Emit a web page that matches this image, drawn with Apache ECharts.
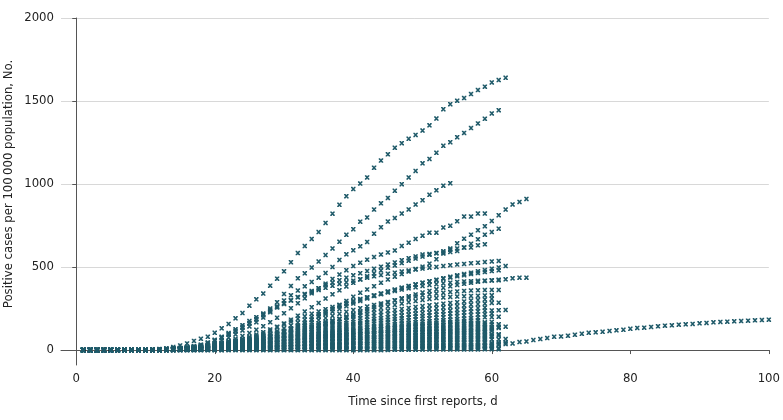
<!DOCTYPE html>
<html><head><meta charset="utf-8">
<script src="https://cdn.jsdelivr.net/npm/echarts@6/dist/echarts.min.js"></script>
<style>html,body{margin:0;padding:0;background:#fff}#c{width:783px;height:420px}</style>
</head><body><div id="c"></div><script>
const xTicks = [0, 20, 40, 60, 80, 100];
const yTicks = [0, 500, 1000, 1500, 2000];
const xTitle = 'Time since first reports, d';
const yTitle = 'Positive cases per 100\u2009000 population, No.';

// values by day (day 1 = first element)
const sA = [0,0,0,0,0,0,0,0,1,1, 2,5,10,18,28,40,55,68,80,104, 131,157,191,223,267,306,340,388,430,474, 529,584,626,669,711,766,821,875,927,970, 1003,1040,1098,1141,1179,1218,1246,1272,1296,1322, 1354,1394,1451,1481,1501,1518,1542,1566,1586,1612, 1626,1640];
const sB = [0,0,0,0,0,0,0,0,0,1, 1,2,3,5,8,12,18,26,38,55, 72,92,112,135,160,185,215,250,288,338, 386,432,462,497,533,572,612,652,694,728, 773,799,846,884,916,959,999,1040,1079,1125, 1151,1188,1230,1252,1282,1308,1337,1365,1393,1425, 1445];
const sC = [0,0,0,0,0,0,0,0,0,0, 1,1,2,3,5,8,12,18,28,42, 58,75,95,118,142,168,196,228,262,298, 330,358,384,410,436,464,500,543,577,601, 625,651,701,740,774,795,822,847,876,903, 935,962,990,1005];
const sD = [0,0,0,0,0,0,0,0,0,0, 0,1,1,2,3,4,6,8,11,15, 19,24,30,37,45,55,66,78,92,108, 125,143,162,182,203,225,248,272,296,321, 345,365,385,405,425,442,458,473,488,502, 520,547,581,611,643,671,695,722,746,778, 812,846,877,892,910];
const sE = [0,0,0,0,0,0,0,0,0,0, 1,1,2,3,5,8,12,17,24,32, 42,54,68,84,102,122,144,168,194,222, 252,282,312,342,372,400,428,455,481,506, 526,544,560,575,588,600,627,647,669,689, 707,707,738,748,776,804,804,822,822];
const sG = [0,0,0,0,0,0,0,0,0,1, 1,2,4,6,10,15,22,32,45,60, 77,96,117,140,163,187,210,233,256,278, 299,319,338,356,373,390,406,421,436,450, 463,476,489,502,515,528,541,553,564,575, 579,583,587,591,597,617,640,667,695,711, 731];
const sH = [0,0,0,0,0,0,0,0,0,0, 0,1,1,2,3,5,7,10,14,19, 25,33,42,53,66,81,98,117,138,160, 183,207,232,258,284,310,336,360,383,405, 425,444,462,479,495,510,524,538,551,563, 574,585,595,604,612,617,617,631,637];
const sM7 = [0,0,0,0,0,0,0,0,0,0, 1,2,3,5,8,13,20,30,43,60, 80,102,125,150,175,198,220,242,262,282, 300,318,334,349,362,375,387,398,408,418, 427,436,444,452,459,466,473,479,485,491, 496,501,506,511,515,519,523,526,530,534, 537];
const sI = [0,0,0,0,0,0,0,0,0,0, 0,0,1,1,2,3,5,7,10,14, 19,25,32,40,50,61,73,86,100,115, 131,148,165,183,200,216,232,248,264,281, 296,311,325,338,351,363,375,386,396,406, 415,424,433,441,450,458,466,474,482,490, 498,506];
const sM5 = [0,0,0,0,0,0,0,0,0,0, 0,1,1,2,3,4,6,9,13,18, 24,31,39,48,58,70,83,98,114,131, 148,165,182,199,216,232,247,262,277,291, 304,317,329,341,352,363,374,384,394,404, 413,421,429,437,444,451,458,464,470,476, 480];
const sJ = [0,0,0,0,0,0,0,0,0,0, 0,0,0,1,1,2,3,4,6,8, 11,14,18,23,29,36,44,53,63,74, 86,99,113,127,142,157,172,187,202,217, 232,246,260,274,287,300,312,324,335,346, 356,366,375,384,392,399,405,411,416,420, 424,426,432,436,436];
const sM3 = [0,0,0,0,0,0,0,0,0,0, 1,1,2,3,5,7,10,14,19,26, 34,43,54,66,79,93,108,124,140,156, 172,188,203,218,232,246,259,272,284,296, 307,318,328,338,347,356,364,372,379,386, 392,397,402,406,410,413,415,417,418,419, 420];
const sM2 = [0,0,0,0,0,0,0,0,0,0, 0,1,1,2,3,4,6,8,11,15, 20,26,33,41,50,60,71,83,96,110, 124,138,152,166,180,193,206,218,230,241, 252,262,272,281,290,299,307,315,322,329, 335,340,345,349,353,356,358,360,361,362, 362];
const sM1 = [0,0,0,0,0,0,0,0,0,0, 0,0,1,1,2,3,4,6,8,11, 15,19,24,30,37,45,54,64,75,87, 99,111,124,137,150,163,176,188,200,212, 223,234,244,254,263,272,280,288,295,302, 308,313,317,320,322,324,326,327,329,330];
const sL1 = [0,0,0,0,0,0,0,0,0,0, 0,0,0,1,1,1,1,2,2,2, 3,3,4,4,5,5,6,6,7,7, 8,9,9,10,10,11,12,12,13,13, 14,14,14,15,15,16,16,16,17,17, 17,18,18,18,19,19,19,19,20,20];
const sL2 = [0,0,0,0,0,0,0,0,0,0, 0,1,1,1,2,2,2,3,4,4, 5,6,6,7,8,9,10,11,12,13, 14,15,16,17,18,19,20,21,22,23, 24,25,25,26,27,27,28,29,29,30, 30,31,32,32,33,33,34,34,34,35, 35];
const sL3 = [0,0,0,0,0,0,0,0,0,0, 1,1,1,2,2,3,3,4,5,6, 7,8,9,11,12,13,14,16,17,19, 20,22,23,25,26,28,29,30,31,33, 34,35,36,37,38,39,40,41,42,43, 44,44,45,46,47,47,48,49,49];
const sL4 = [0,0,0,0,0,0,0,0,0,0, 1,1,2,2,3,4,4,5,7,8, 9,10,12,14,15,17,19,20,22,24, 26,28,30,32,34,36,37,39,41,42, 44,46,47,48,49,51,52,53,55,56, 57,58,59,59,60,61,62,63,64,65, 65,66];
const sL5 = [0,0,0,0,0,0,0,0,0,0, 1,2,2,3,3,4,5,7,8,10, 11,13,15,17,19,21,23,25,27,30, 32,34,37,39,42,44,46,48,50,52, 54,56,58,59,61,62,64,66,67,68, 70,71,72,73,74,76,77,78,79,80];
const sL6 = [0,0,0,0,0,0,0,0,0,0, 1,2,2,3,4,5,6,8,10,11, 13,15,18,20,22,25,27,29,32,35, 38,41,44,47,49,52,55,57,59,62, 64,67,68,70,72,74,76,78,80,81, 83,84,86,87,88,90,91,92,93,95, 95];
const sL7 = [0,0,0,0,0,0,0,0,0,0, 2,2,3,4,5,6,7,9,11,13, 15,18,20,23,26,29,31,34,37,41, 44,47,51,54,57,61,63,66,69,72, 74,77,79,81,84,86,88,90,92,94, 96,97,99,101,102,104,106,107,108];
const sL8 = [0,0,0,0,0,0,0,0,0,0, 2,2,3,4,5,7,9,10,13,15, 18,20,23,26,29,33,36,39,43,46, 50,54,58,61,65,69,72,75,78,81, 84,88,90,93,95,98,100,103,105,107, 109,111,113,114,116,118,120,122,123,124];
const sL9 = [0,0,0,0,0,0,0,0,0,0, 2,3,4,5,6,8,10,12,14,17, 20,22,26,29,33,36,40,43,48,52, 56,60,64,69,73,77,81,84,88,91, 95,98,101,104,106,109,112,115,118,120, 122,124,126,128,130,132,134,136,138,139, 140,141];
const sL10 = [0,0,0,0,0,0,0,0,0,0, 2,3,4,5,7,9,11,13,16,19, 22,25,29,33,36,40,44,48,53,57, 62,67,71,76,81,85,89,93,97,101, 105,109,112,115,118,121,124,127,130,133, 135,137,140,142,144,146,149,151,153,154, 155];
const sL11 = [0,0,0,0,0,0,0,0,0,0, 2,3,4,6,7,9,12,14,17,20, 24,27,31,36,40,44,48,53,58,63, 68,73,78,83,88,94,98,102,106,111, 115,119,122,126,129,133,136,139,143,145, 148,150,153,156,158,161,163,165,167,169];
const sL12 = [0,0,0,0,0,0,0,0,0,0, 3,4,5,6,8,10,13,15,19,22, 26,30,34,39,43,48,53,57,63,68, 74,80,85,91,96,102,106,111,116,120, 125,130,133,137,141,144,148,152,155,158, 161,164,167,169,172,175,178,180];
const sL13 = [0,0,0,0,0,0,0,0,0,0, 3,4,5,7,9,11,14,17,20,24, 28,32,37,42,47,52,57,62,68,74, 80,86,92,98,104,110,115,120,125,130, 135,140,144,148,152,156,160,164,168,171, 174,177,180,183,186,189,192,194,197,199, 200];
const sL14 = [0,0,0,0,0,0,0,0,0,0, 3,4,6,7,9,12,15,18,22,26, 31,35,41,46,52,57,63,68,75,81, 88,95,101,108,114,121,127,132,138,143, 149,154,158,163,167,172,176,180,185,188, 191,195,198,201,205,208,211,214,216,219];
const sL15 = [0,0,0,0,0,0,0,0,0,0, 3,5,6,8,10,13,16,20,24,29, 34,38,44,50,56,62,68,74,82,89, 96,103,110,118,125,132,138,144,150,156, 162,168,173,178,182,187,192,197,202,205, 209,212,216,220,223,227,230,233,236,239, 240,242];
const sL16 = [0,0,0,0,0,0,0,0,0,0, 4,5,7,9,11,14,18,22,26,31, 36,42,48,55,61,68,74,81,88,96, 104,112,120,127,135,143,150,156,163,169, 176,182,187,192,198,203,208,213,218,222, 226,230,234,238,242,246,250,253,256];
const sL17 = [0,0,0,0,0,0,0,0,0,0, 4,5,7,9,12,16,19,24,29,34, 40,46,53,60,67,74,81,88,97,105, 114,123,131,140,148,157,164,171,178,185, 192,200,205,211,217,222,228,234,239,244, 248,252,257,261,265,269,274,277,280,284, 285];
const sL18 = [0,0,0,0,0,0,0,0,0,0, 4,6,8,10,13,17,21,26,31,37, 43,50,57,65,73,81,88,96,105,115, 124,133,143,152,161,171,178,186,194,202, 209,217,223,229,236,242,248,254,260,265, 270,274,279,284,288,293,298,301,305,308];
const sN1 = [0,0,0,0,0,0,0,0,0,0, 0,0,0,0,0,1,1,1,1,1, 1,2,2,2,2,3,3,3,3,4, 4,4,4,5,5,5,6,6,6,6, 7,7,7,7,8,8,8,8,8,9, 9,9,9,9,9,10,10,10,10,10, 10];
const sN2 = [0,0,0,0,0,0,0,0,0,0, 1,1,2,2,3,3,4,5,6,7, 8,9,10,11,12,13,14,15,16,17, 18,18,19,19,20,20,21,21,22,22, 23,23,24,24,24,25,25,25,26,26, 26,26,27,27,27,27,28,28,28,28];
const sN3 = [0,0,0,0,0,0,0,0,0,0, 0,1,1,1,2,2,3,3,4,5, 6,7,8,9,10,11,12,13,14,16, 17,18,20,21,22,24,25,26,27,29, 30,31,32,33,34,35,36,37,38,39, 39,40,41,41,42,42,43,43,44,44, 45,45];
const sN4 = [0,0,0,0,0,0,0,0,0,0, 1,2,3,4,5,6,8,10,12,14, 16,18,20,22,24,26,28,30,32,34, 36,38,40,42,44,46,48,50,51,53, 54,55,57,58,59,60,61,62,63,64, 65,66,67,68,69,70,70,71,72];
const sN5 = [0,0,0,0,0,0,0,0,0,0, 1,1,2,2,3,4,5,6,8,9, 11,13,15,17,19,21,24,26,29,31, 34,37,39,42,45,47,50,52,55,57, 59,61,63,65,67,69,70,72,74,75, 77,78,79,80,81,82,83,84,85,86, 88];
const sN6 = [0,0,0,0,0,0,0,0,0,0, 2,3,5,7,9,12,15,19,23,27, 31,35,39,43,47,51,55,59,63,66, 69,72,75,78,80,83,85,87,89,91, 93,95,96,98,99,101,102,103,104,106, 107,108,109,110,111,112,113,113,114,115];
const sN7 = [0,0,0,0,0,0,0,0,0,0, 1,2,3,4,5,6,8,10,12,14, 17,19,22,25,28,31,35,38,42,46, 49,53,57,61,64,68,72,75,79,82, 85,88,91,94,97,100,102,105,107,110, 112,114,116,118,120,122,124,126,128,130, 133];
const sN8 = [0,0,0,0,0,0,0,0,0,0, 2,3,4,6,8,10,13,16,19,23, 27,31,35,40,44,49,54,59,64,69, 74,79,84,89,93,97,101,105,109,113, 117,120,123,126,129,132,135,138,140,143, 145,147,149,151,153,155,157,158,160];
const sZ = [0,0,0,0,0,0,0,0,0,0, 0,0,0,0,0,0,0,0,0,0, 0,0,0,0,0,0,0,0,0,0, 0,0,0,0,0,0,0,0,0,0, 1,1,1,1,2,2,2,2,2,3, 3,3,3,3,4,4,4,4,5,5, 5];
const sWA = [0,0,0,0,0,0,0,0,0,0, 0,0,0,0,0,0,0,0,0,0, 0,0,0,0,0,0,0,0,0,0, 0,0,0,0,0,0,0,0,0,0, 0,1,1,1,1,2,2,3,4,5, 6,8,9,11,13,15,17,20,23,26, 30,36,40,48,52,60,66,72,80,82, 86,92,98,104,107,110,115,119,122,128, 133,135,139,143,147,149,153,155,157,161, 163,167,169,171,173,175,177,179,181,183];

const allSeries = [sA,sB,sC,sD,sE,sG,sH,sM7,sI,sM5,sJ,sM3,sM2,sM1,
  sL1,sL2,sL3,sL4,sL5,sL6,sL7,sL8,sL9,sL10,sL11,sL12,sL13,sL14,sL15,sL16,sL17,sL18,
  sN1,sN2,sN3,sN4,sN5,sN6,sN7,sN8,sZ,sWA];

const FONT = '"DejaVu Sans Condensed","Liberation Sans Narrow","DejaVu Sans",sans-serif';
const MARK = '#1f5a69';
const X_SYM = 'path://M0,0L3,0L5,2.5L7,0L10,0L10,2.5L7,5L10,7.5L10,10L7,10L5,7.5L3,10L0,10L0,7.5L3,5L0,2.5Z';

const chart = echarts.init(document.getElementById('c'), null, {renderer: 'canvas'});
chart.setOption({
  animation: false,
  backgroundColor: '#fff',
  grid: {left: 61, right: 13, top: 18, bottom: 55},
  xAxis: {
    type: 'value', min: -2.2, max: 100,
    axisLine: {show: true, lineStyle: {color: '#555', width: 1}},
    axisTick: {show: true, length: 4, customValues: xTicks, lineStyle: {color: '#555'}},
    axisLabel: {customValues: xTicks, margin: 7, fontSize: 13, color: '#222', fontFamily: FONT,
      formatter: function (v) { return String(v); }},
    splitLine: {show: false}
  },
  yAxis: {
    type: 'value', min: -90, max: 2000,
    axisLine: {show: true, lineStyle: {color: '#555', width: 1}},
    axisTick: {show: true, length: 4, customValues: yTicks, lineStyle: {color: '#555'}},
    axisLabel: {customValues: yTicks, margin: 7, fontSize: 13, color: '#222', fontFamily: FONT,
      formatter: function (v) { return String(v); }},
    splitLine: {show: true, lineStyle: {color: '#d8d8d8', width: 1}}
  },
  graphic: [
    {type: 'text', x: 423, y: 402, silent: true,
     style: {text: xTitle, font: '13px ' + FONT, fill: '#222', align: 'center', verticalAlign: 'middle', textAlign: 'center', textVerticalAlign: 'middle'}},
    {type: 'text', x: 9, y: 184, rotation: Math.PI / 2, silent: true,
     style: {text: yTitle, font: '13px ' + FONT, fill: '#222', align: 'center', verticalAlign: 'middle', textAlign: 'center', textVerticalAlign: 'middle'}}
  ],
  series: allSeries.map(function (vals) {
    return {
      type: 'scatter', silent: true,
      symbol: X_SYM, symbolSize: 4.5,
      itemStyle: {color: MARK, opacity: 1},
      emphasis: {disabled: true},
      data: vals.map(function (v, i) { return [i + 1, v]; })
    };
  })
});
</script></body></html>
